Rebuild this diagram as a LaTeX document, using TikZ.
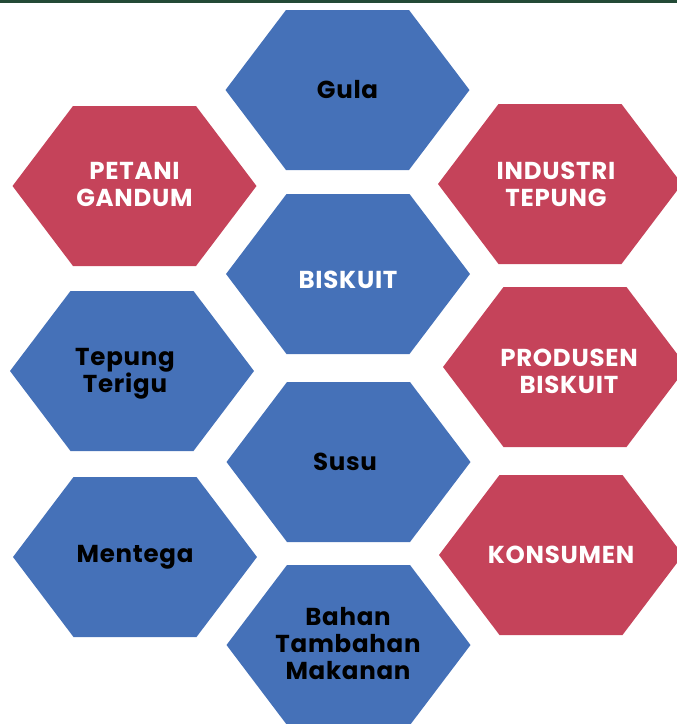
\documentclass[tikz,border=0pt]{standalone}
\usepackage{fontspec}
\setmainfont{Poppins}[LetterSpace=3]

\definecolor{hexblue}{HTML}{4571B8}
\definecolor{hexred}{HTML}{C5435A}
\definecolor{topbar}{HTML}{234A36}

\tikzset{
    dark label/.style={align=center,text=black,font=\fontsize{24.5}{27}\selectfont\bfseries},
    light label/.style={align=center,text=white,font=\fontsize{24.5}{27}\selectfont\bfseries},
}

% hexagon: centre x, centre y, colour
\newcommand{\hexa}[3]{%
    \fill[#3] (#1-122,#2) -- ++(60.5,-80) -- ++(123,0) -- ++(60.5,80)
        -- ++(-60.5,80) -- ++(-123,0) -- cycle;
}

\begin{document}
\begin{tikzpicture}[x=1pt,y=-1pt]
    \useasboundingbox (0,0) rectangle (677,724);
    \fill[topbar] (0,0) rectangle (677,3);

    \hexa{347.5}{90}{hexblue}
    \hexa{134.5}{186}{hexred}
    \hexa{560}{184}{hexred}
    \hexa{348}{274}{hexblue}
    \hexa{132}{371}{hexblue}
    \hexa{565}{367}{hexred}
    \hexa{348.5}{462}{hexblue}
    \hexa{135}{557}{hexblue}
    \hexa{561}{555}{hexred}
    \hexa{348.5}{645}{hexblue}

    \node[dark label] (gula) at (347.5,90) {Gula};
    \node[light label] (petani) at (134.5,184) {PETANI\\GANDUM};
    \node[light label] (industri) at (556,184) {INDUSTRI\\TEPUNG};
    \node[light label] (biskuit) at (348,280) {BISKUIT};
    \node[dark label] (tepung) at (125,374) {Tepung\\Terigu};
    \node[light label] (produsen) at (569,371) {PRODUSEN\\BISKUIT};
    \node[dark label] (susu) at (345,462) {Susu};
    \node[dark label] (mentega) at (135,557) {Mentega};
    \node[light label] (konsumen) at (561,555) {KONSUMEN};
    \node[dark label] (bahan) at (348,644) {Bahan\\Tambahan\\Makanan};
\end{tikzpicture}
\end{document}
